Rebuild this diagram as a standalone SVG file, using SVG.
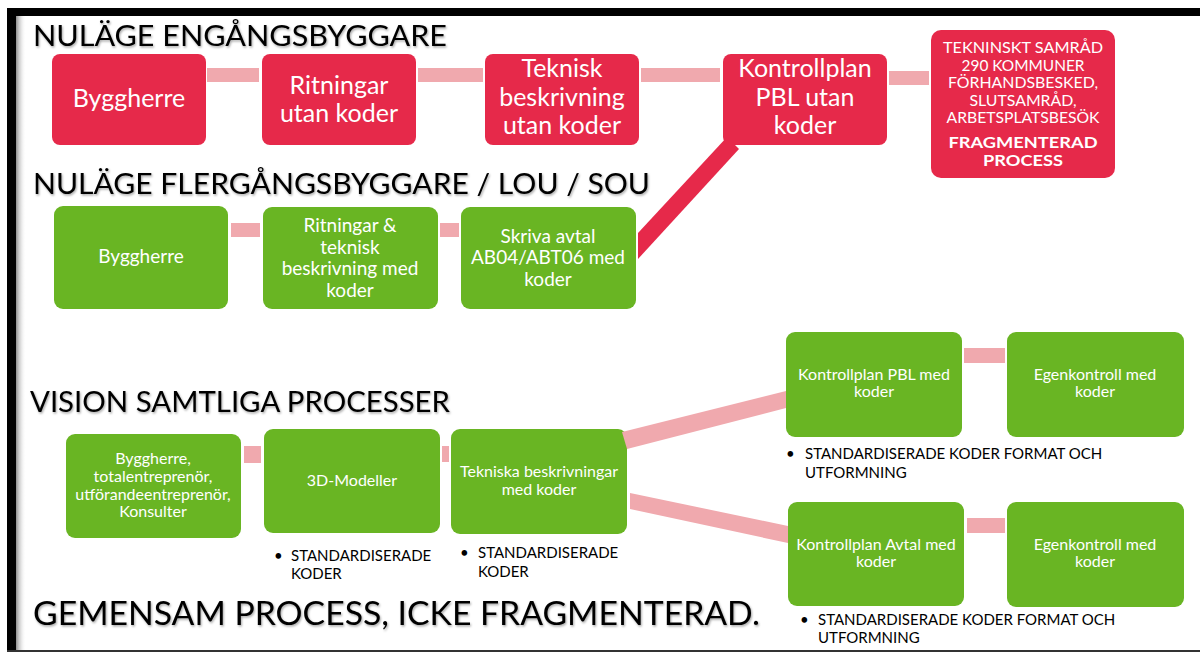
<svg xmlns="http://www.w3.org/2000/svg" width="1200" height="654" viewBox="0 0 1200 654">
<defs>
<linearGradient id="lshadow" x1="0" x2="1" y1="0" y2="0"><stop offset="0" stop-color="#8c8c8c"/><stop offset="1" stop-color="#ffffff" stop-opacity="0"/></linearGradient>
<filter id="tshadow" x="-5%" y="-40%" width="110%" height="180%"><feDropShadow dx="1" dy="1.5" stdDeviation="1" flood-color="#000" flood-opacity="0.35"/></filter>
</defs>
<style>
.red{fill:#E6294A}
.green{fill:#69B523}
.conn{fill:#F0A9AE}
.title{font-family:Lato,"Liberation Sans",sans-serif;fill:#000;filter:url(#tshadow)}
.lbl{font-family:Lato,"Liberation Sans",sans-serif;fill:#fff;text-anchor:middle}
.big{font-size:25px}
.mid{font-size:19px}
.sm{font-size:16px}
.caps{font-size:16px}
.bold{font-weight:bold}
.bul{font-family:Lato,"Liberation Sans",sans-serif;fill:#000;font-size:15px}
</style>
<rect width="1200" height="654" fill="#fff"/>
<!-- frame -->
<rect x="16" y="16" width="10" height="635" fill="url(#lshadow)"/>
<rect x="7" y="8" width="1193" height="8" fill="#000"/>
<rect x="7" y="8" width="9" height="644" fill="#000"/>
<rect x="7" y="650" width="1193" height="2" fill="#333"/>

<!-- titles -->
<text class="title" x="33" y="46" font-size="29" textLength="414" lengthAdjust="spacingAndGlyphs">NULÄGE ENGÅNGSBYGGARE</text>
<text class="title" x="33" y="194" font-size="29" textLength="617" lengthAdjust="spacingAndGlyphs">NULÄGE FLERGÅNGSBYGGARE / LOU / SOU</text>
<text class="title" x="30" y="412" font-size="28" textLength="420" lengthAdjust="spacingAndGlyphs">VISION SAMTLIGA PROCESSER</text>
<text class="title" x="33" y="625" font-size="32" textLength="727" lengthAdjust="spacingAndGlyphs">GEMENSAM PROCESS, ICKE FRAGMENTERAD.</text>

<!-- nodes row 1 -->
<g id="r1-byggherre"><rect class="red" x="52" y="54" width="154" height="91" rx="8"/><text class="lbl big" x="129" y="107">Byggherre</text></g>
<g id="r1-ritningar"><rect class="red" x="262" y="54" width="154" height="91" rx="8"/><text class="lbl big" x="339" y="94">Ritningar</text><text class="lbl big" x="339" y="122">utan koder</text></g>
<g id="r1-teknisk"><rect class="red" x="485" y="54" width="154" height="91" rx="8"/><text class="lbl big" x="562" y="77">Teknisk</text><text class="lbl big" x="562" y="106">beskrivning</text><text class="lbl big" x="562" y="134">utan koder</text></g>
<g id="r1-kontrollplan"><rect class="red" x="723" y="54" width="164" height="91" rx="8"/><text class="lbl big" x="805" y="77">Kontrollplan</text><text class="lbl big" x="805" y="106">PBL utan</text><text class="lbl big" x="805" y="134">koder</text></g>
<g id="r1-samrad"><rect class="red" x="931" y="30" width="184" height="148" rx="10"/>
<text class="lbl caps" x="1023" y="53" textLength="160" lengthAdjust="spacingAndGlyphs">TEKNINSKT SAMRÅD</text>
<text class="lbl caps" x="1023" y="71" textLength="123" lengthAdjust="spacingAndGlyphs">290 KOMMUNER</text>
<text class="lbl caps" x="1023" y="88" textLength="150" lengthAdjust="spacingAndGlyphs">FÖRHANDSBESKED,</text>
<text class="lbl caps" x="1023" y="106" textLength="107" lengthAdjust="spacingAndGlyphs">SLUTSAMRÅD,</text>
<text class="lbl caps" x="1023" y="123" textLength="153" lengthAdjust="spacingAndGlyphs">ARBETSPLATSBESÖK</text>
<text class="lbl caps bold" x="1023" y="148" textLength="149" lengthAdjust="spacingAndGlyphs">FRAGMENTERAD</text>
<text class="lbl caps bold" x="1023" y="166" textLength="80" lengthAdjust="spacingAndGlyphs">PROCESS</text></g>

<!-- nodes row 2 -->
<g id="r2-byggherre"><rect class="green" x="54" y="206" width="174" height="103" rx="9"/><text class="lbl mid" x="141" y="263">Byggherre</text></g>
<g id="r2-ritningar"><rect class="green" x="263" y="207" width="175" height="102" rx="9"/><text class="lbl mid" x="350" y="232">Ritningar &amp;</text><text class="lbl mid" x="350" y="254">teknisk</text><text class="lbl mid" x="350" y="275">beskrivning med</text><text class="lbl mid" x="350" y="297">koder</text></g>
<g id="r2-skriva"><rect class="green" x="461" y="207" width="175" height="102" rx="9"/><text class="lbl mid" x="548" y="243">Skriva avtal</text><text class="lbl mid" x="548" y="264">AB04/ABT06 med</text><text class="lbl mid" x="548" y="286">koder</text></g>

<!-- nodes row 3 -->
<g id="r3-aktorer"><rect class="green" x="66" y="434" width="175" height="104" rx="9"/><text class="lbl sm" x="153" y="464">Byggherre,</text><text class="lbl sm" x="153" y="482">totalentreprenör,</text><text class="lbl sm" x="153" y="500">utförandeentreprenör,</text><text class="lbl sm" x="153" y="517">Konsulter</text></g>
<g id="r3-3d"><rect class="green" x="264" y="429" width="176" height="104" rx="9"/><text class="lbl sm" x="352" y="486">3D-Modeller</text></g>
<g id="r3-tekniska"><rect class="green" x="451" y="429" width="176" height="105" rx="9"/><text class="lbl sm" x="539" y="477">Tekniska beskrivningar</text><text class="lbl sm" x="539" y="495">med koder</text></g>
<g id="r3-kpbl"><rect class="green" x="786" y="332" width="176" height="105" rx="9"/><text class="lbl sm" x="874" y="380">Kontrollplan PBL med</text><text class="lbl sm" x="874" y="397">koder</text></g>
<g id="r3-egen1"><rect class="green" x="1007" y="332" width="177" height="105" rx="9"/><text class="lbl sm" x="1095" y="380">Egenkontroll med</text><text class="lbl sm" x="1095" y="397">koder</text></g>
<g id="r3-kavtal"><rect class="green" x="788" y="502" width="176" height="104" rx="9"/><text class="lbl sm" x="876" y="550">Kontrollplan Avtal med</text><text class="lbl sm" x="876" y="567">koder</text></g>
<g id="r3-egen2"><rect class="green" x="1007" y="502" width="177" height="105" rx="9"/><text class="lbl sm" x="1095" y="550">Egenkontroll med</text><text class="lbl sm" x="1095" y="567">koder</text></g>

<!-- bullet notes -->
<g id="notes">
<text class="bul" x="274" y="561">•</text><text class="bul" x="291" y="561">STANDARDISERADE</text><text class="bul" x="291" y="579">KODER</text>
<text class="bul" x="460" y="558">•</text><text class="bul" x="478" y="558">STANDARDISERADE</text><text class="bul" x="478" y="577">KODER</text>
<text class="bul" x="786" y="459">•</text><text class="bul" x="805" y="459">STANDARDISERADE KODER FORMAT OCH</text><text class="bul" x="805" y="478">UTFORMNING</text>
<text class="bul" x="800" y="625">•</text><text class="bul" x="818" y="625">STANDARDISERADE KODER FORMAT OCH</text><text class="bul" x="818" y="643">UTFORMNING</text>
</g>

<!-- connectors -->
<g id="connectors">
<rect class="conn" x="207" y="68" width="52" height="14"/>
<rect class="conn" x="418" y="68" width="65" height="14"/>
<rect class="conn" x="641" y="68" width="79" height="14"/>
<rect class="conn" x="889" y="71" width="40" height="14"/>
<polygon class="red" points="638,233 727,137 739,149 638,259"/>
<rect class="conn" x="231" y="223" width="29" height="14"/>
<rect class="conn" x="440" y="223" width="19" height="14"/>
<rect class="conn" x="244" y="446" width="17" height="17"/>
<rect class="conn" x="442" y="446" width="7" height="16"/>
<polygon class="conn" points="622,432 786,391 786,408 627,449"/>
<polygon class="conn" points="630,493 788,526 788,543 630,509"/>
<rect class="conn" x="964" y="348" width="41" height="15"/>
<rect class="conn" x="967" y="518" width="38" height="15"/>
</g>
</svg>
